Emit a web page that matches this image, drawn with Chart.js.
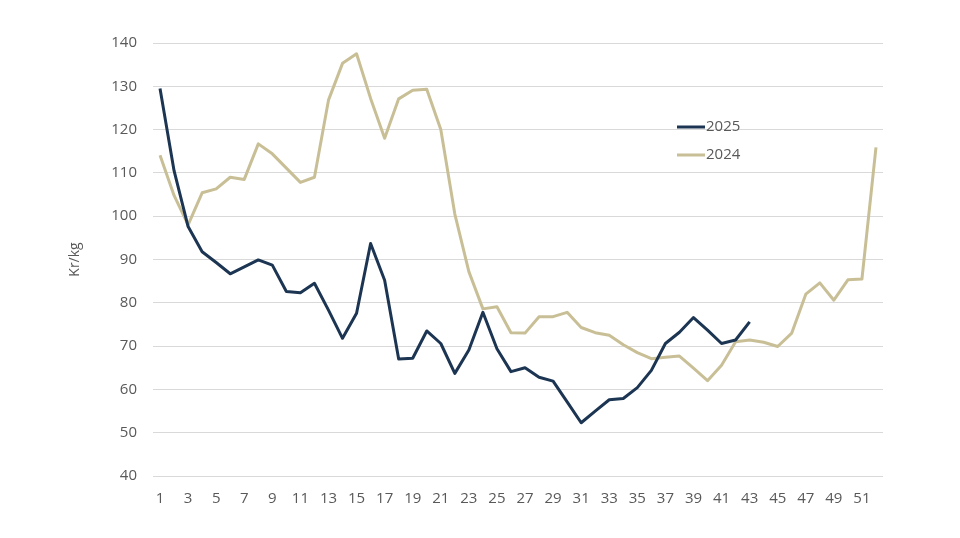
<!DOCTYPE html>
<html>
<head>
<meta charset="utf-8">
<script src="https://cdn.jsdelivr.net/npm/chart.js@4"></script>
<style>
html,body{margin:0;padding:0;background:#fff;}
#wrap{width:960px;height:538px;position:relative;}
</style>
</head>
<body>
<div id="wrap"><canvas id="c" width="960" height="538"></canvas></div>
<script>
const weeks = Array.from({length: 52}, (_, i) => String(i + 1));
const label2025 = '2025';
const label2024 = '2024';
const values2025 = [129.5, 110.5, 97.6, 91.8, 89.3, 86.7, 88.3, 89.9, 88.7, 82.6, 82.3, 84.5, 78.3, 71.8, 77.6, 93.7, 85.2,
  67.0, 67.2, 73.5, 70.6, 63.7, 69.1, 77.8, 69.4, 64.1, 65.0, 62.8, 61.9, 57.1, 52.3, 55.0, 57.6, 57.9, 60.4,
  64.4, 70.6, 73.2, 76.6, 73.7, 70.6, 71.4, 75.6];
const values2024 = [114.1, 104.8, 98.0, 105.4, 106.3, 109.0, 108.5, 116.7, 114.4, 111.1, 107.8, 109.0, 126.8, 135.3, 137.5, 127.2, 118.0,
  127.1, 129.1, 129.3, 120.0, 100.5, 87.2, 78.6, 79.1, 73.1, 73.0, 76.8, 76.8, 77.8, 74.3, 73.1, 72.5, 70.3, 68.5,
  67.1, 67.4, 67.7, 64.9, 62.0, 65.6, 71.0, 71.4, 70.9, 69.9, 73.0, 82.0, 84.6, 80.6, 85.3, 85.5, 115.9];
const yMin = 40, yMax = 140, yStep = 10;
const yTitle = 'Kr/kg';

const color2025 = '#1c3553';
const color2024 = '#c9bf96';
const textColor = '#595959';
const fontFamily = '"Open Sans", "Liberation Sans", sans-serif';

const legendPlugin = {
  id: 'inlineLegend',
  afterDatasetsDraw(chart) {
    const ctx = chart.ctx;
    const x0 = 677, x1 = 705, ys = [127, 155];
    chart.data.datasets.forEach((ds, i) => {
      const y = ys[i];
      ctx.save();
      ctx.strokeStyle = ds.borderColor;
      ctx.lineWidth = 3;
      ctx.beginPath();
      ctx.moveTo(x0, y);
      ctx.lineTo(x1, y);
      ctx.stroke();
      ctx.fillStyle = textColor;
      ctx.font = '15px ' + fontFamily;
      ctx.textBaseline = 'middle';
      ctx.textAlign = 'left';
      ctx.fillText(ds.label, x1 + 1, y);
      ctx.restore();
    });
  }
};

new Chart(document.getElementById('c'), {
  type: 'line',
  data: {
    labels: weeks,
    datasets: [
      { label: label2025, data: values2025, borderColor: color2025, backgroundColor: color2025, borderWidth: 3, pointRadius: 0, tension: 0, borderJoinStyle: 'round' },
      { label: label2024, data: values2024, borderColor: color2024, backgroundColor: color2024, borderWidth: 3, pointRadius: 0, tension: 0, borderJoinStyle: 'round' }
    ]
  },
  options: {
    responsive: false,
    animation: false,
    devicePixelRatio: 1,
    layout: { padding: { top: 43, right: 77, left: 0, bottom: 0 } },
    plugins: { legend: { display: false }, tooltip: { enabled: false } },
    scales: {
      x: {
        type: 'category',
        offset: true,
        grid: { display: false, drawTicks: false },
        border: { display: false },
        afterFit(scale) { scale.height = 62; },
        ticks: {
          autoSkip: false,
          maxRotation: 0,
          minRotation: 0,
          padding: 14,
          color: textColor,
          font: { family: fontFamily, size: 15 },
          callback(value, index) { return index % 2 === 0 ? this.getLabelForValue(value) : ''; }
        }
      },
      y: {
        min: yMin,
        max: yMax,
        afterFit(scale) { scale.width = 153; },
        grid: { color: '#d9d9d9', lineWidth: 1, drawTicks: false },
        border: { display: false },
        ticks: {
          stepSize: yStep,
          padding: 16,
          color: textColor,
          font: { family: fontFamily, size: 15 }
        },
        title: {
          display: true,
          text: yTitle,
          color: textColor,
          font: { family: fontFamily, size: 14 },
          padding: { top: 67, bottom: 0 }
        }
      }
    }
  },
  plugins: [legendPlugin]
});
</script>
</body>
</html>
